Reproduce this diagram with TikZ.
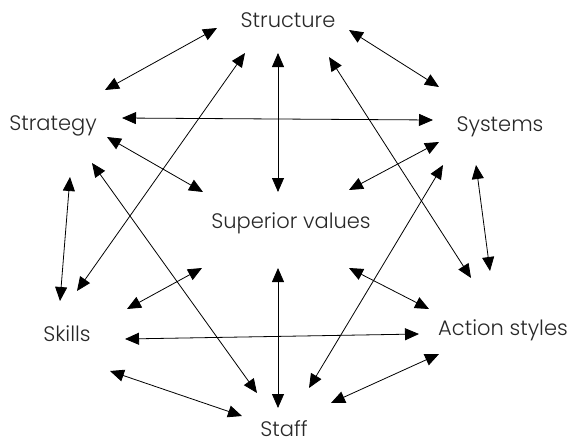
\documentclass[tikz,border=0pt]{standalone}
\usepackage{fontspec}
\IfFontExistsTF{Poppins Light}{\setmainfont{Poppins Light}}{\setmainfont{Poppins}}
\usetikzlibrary{arrows.meta}
\definecolor{txtgray}{RGB}{40, 40, 40}

\begin{document}
\begin{tikzpicture}[x=1pt,y=-1pt,
  lbl/.style={anchor=base,inner sep=0pt,text=txtgray,font=\fontsize{21}{25}\selectfont},
  link/.style={{Triangle[length=14pt,width=12pt]}-{Triangle[length=14pt,width=12pt]},line width=0.8pt}]
\useasboundingbox (0,0) rectangle (572,442);

% Labels
\node[lbl] (structure) at (288,27) {Structure};
\node[lbl] (strategy) at (53,130) {Strategy};
\node[lbl] (systems) at (500,131) {Systems};
\node[lbl] (superior) at (291,228) {Superior values};
\node[lbl] (skills) at (67,341) {Skills};
\node[lbl] (action) at (503,335) {Action styles};
\node[lbl] (staff) at (284,436) {Staff};

% Outer ring
\draw[link] ([shift={(52,-40)}]strategy.base) -- ([shift={(-71,1)}]structure.base);
\draw[link] ([shift={(61,3)}]structure.base) -- ([shift={(-61,-44)}]systems.base);
\draw[link] ([shift={(-24,34)}]systems.base) -- ([shift={(-13,-64)}]action.base);
\draw[link] ([shift={(-64,19)}]action.base) -- ([shift={(47,-33)}]staff.base);
\draw[link] ([shift={(-42,-20)}]staff.base) -- ([shift={(43,30)}]skills.base);
\draw[link] ([shift={(-7,-40)}]skills.base) -- ([shift={(17,47)}]strategy.base);

% Across
\draw[link] ([shift={(69,-12)}]strategy.base) -- ([shift={(-67,-11)}]systems.base);
\draw[link] ([shift={(58,-2)}]skills.base) -- ([shift={(-84,-1)}]action.base);
\draw[link] ([shift={(10,-50)}]skills.base) -- ([shift={(-43,26)}]structure.base);
\draw[link] ([shift={(41,30)}]structure.base) -- ([shift={(-32,-57)}]action.base);
\draw[link] ([shift={(39,33)}]strategy.base) -- ([shift={(-27,-43)}]staff.base);
\draw[link] ([shift={(25,-48)}]staff.base) -- ([shift={(-57,34)}]systems.base);

% To the centre
\draw[link] ([shift={(-10,26)}]structure.base) -- ([shift={(-13,-36)}]superior.base);
\draw[link] ([shift={(54,7)}]strategy.base) -- ([shift={(-88,-36)}]superior.base);
\draw[link] ([shift={(58,-38)}]superior.base) -- ([shift={(-61,11)}]systems.base);
\draw[link] ([shift={(60,-32)}]skills.base) -- ([shift={(-89,40)}]superior.base);
\draw[link] ([shift={(-13,40)}]superior.base) -- ([shift={(-6,-28)}]staff.base);
\draw[link] ([shift={(58,40)}]superior.base) -- ([shift={(-74,-26)}]action.base);
\end{tikzpicture}
\end{document}
